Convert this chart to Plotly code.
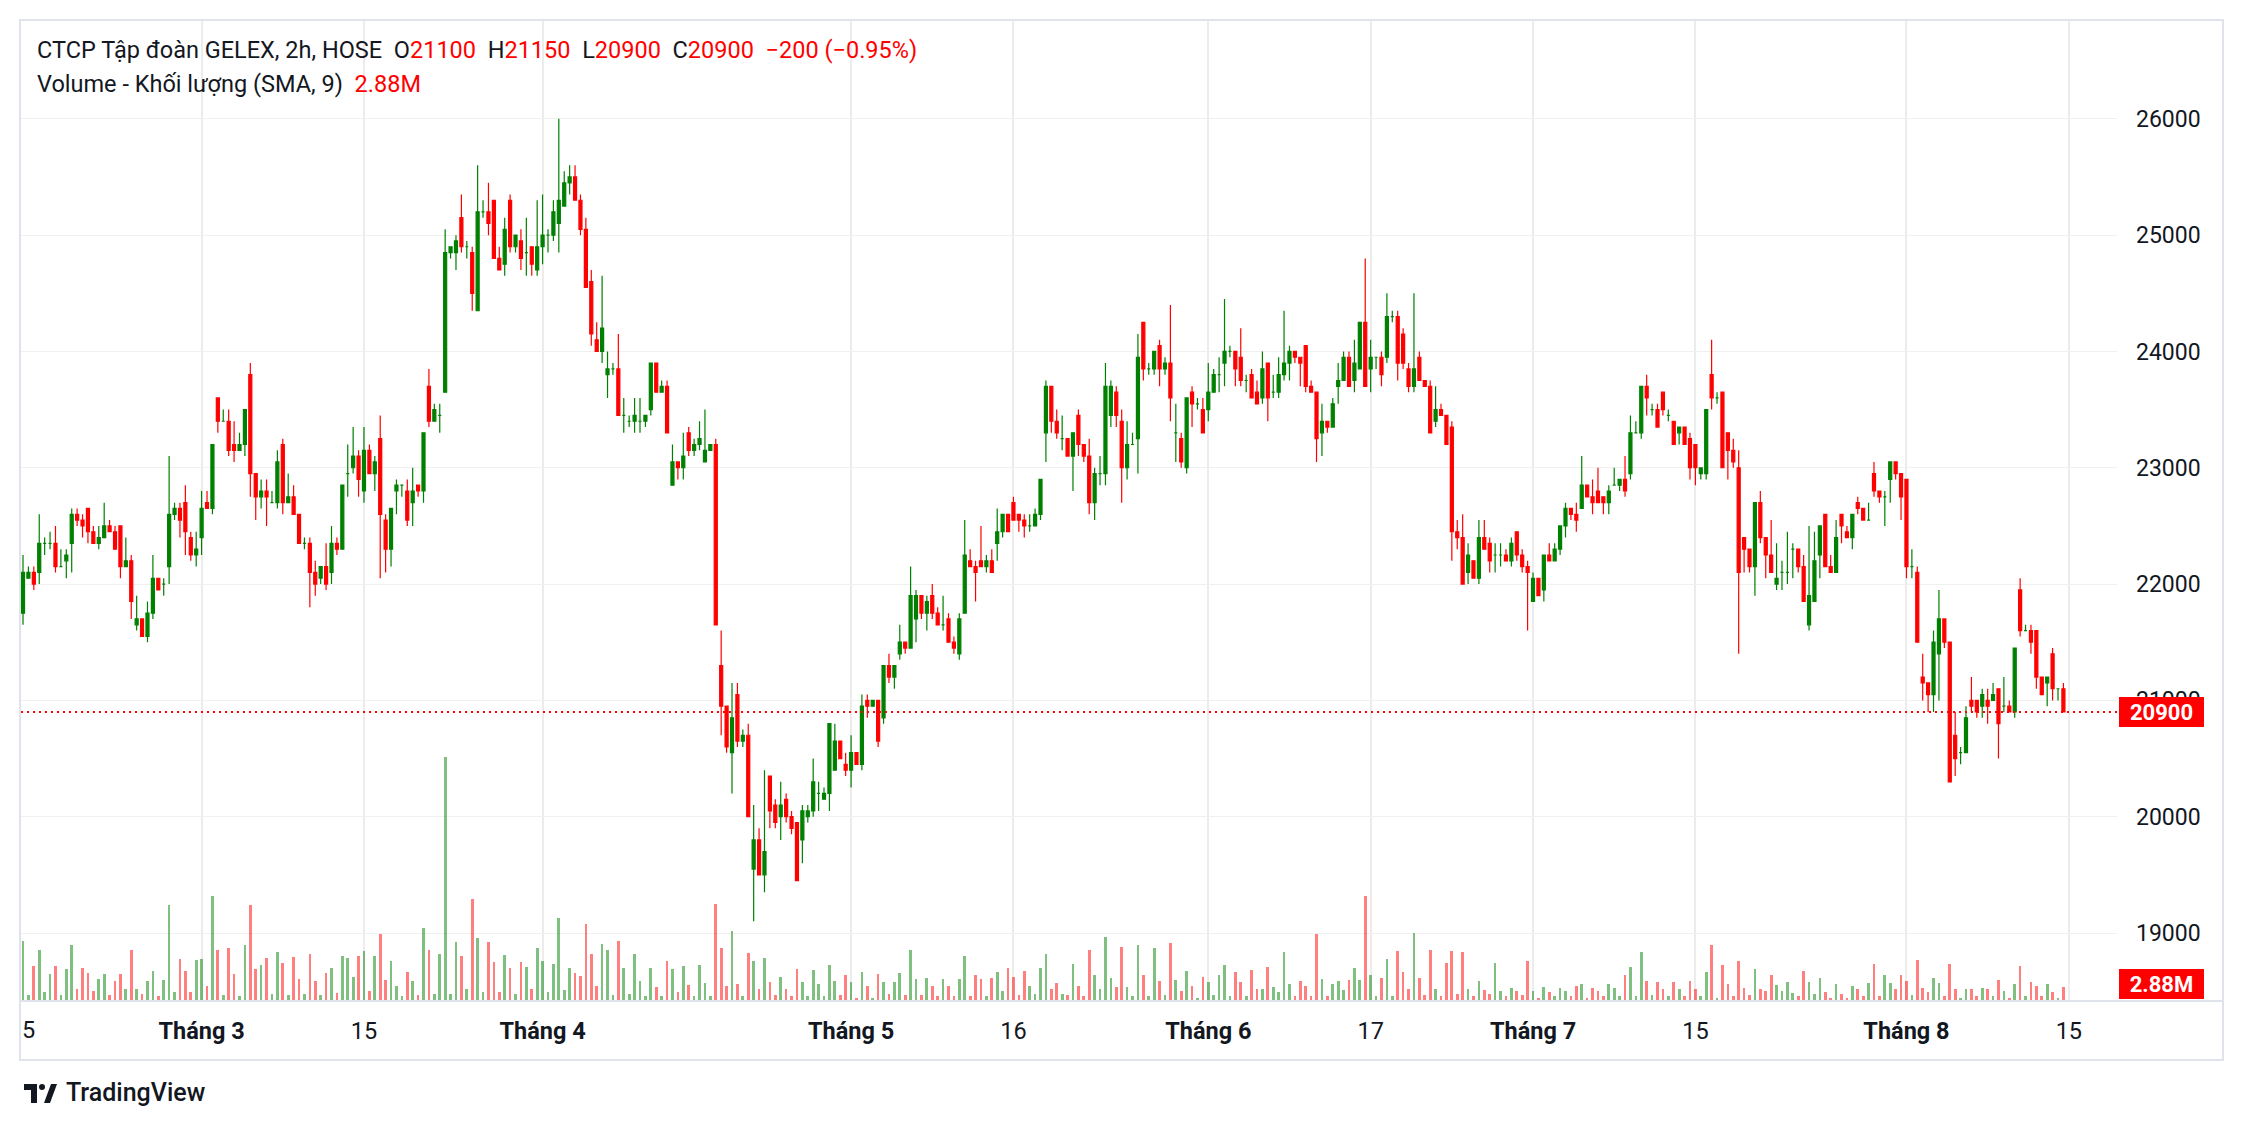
import plotly.graph_objects as go

# ---------------- data ----------------
open_ = [
    21750, 22050, 22100, 22100, 22350, 22350, 22350, 22150, 22200, 22350,
    22600, 22550, 22650, 22450, 22350, 22400, 22500, 22450, 22500, 22150,
    22200, 21650, 21700, 21550, 21750, 22050, 22000, 22150, 22600, 22650,
    22700, 22400, 22250, 22400, 22700, 22650, 23600, 23400, 23400, 23200,
    23150, 23200, 23800, 22950, 22750, 22800, 22700, 22700, 23200, 22700,
    22750, 22600, 22350, 22350, 22100, 22050, 22150, 22100, 22350, 22300,
    22950, 23000, 23100, 22800, 23150, 22950, 23250, 22550, 22300, 22800,
    22850, 22800, 22700, 22850, 22800, 23700, 23400, 23450, 23650, 24850,
    24850, 25150, 24900, 24850, 24350, 25200, 25200, 25300, 24800, 24750,
    25300, 24900, 24950, 24850, 24900, 24700, 24900, 25000, 25000, 25100,
    25250, 25450, 25500, 25300, 25050, 24600, 24100, 24000, 23800, 23850,
    23850, 23450, 23400, 23400, 23400, 23400, 23500, 23900, 23650, 23700,
    22850, 23050, 23000, 23300, 23150, 23200, 23050, 23150, 23200, 21300,
    20950, 20550, 21050, 20650, 20700, 19550, 19800, 19500, 20350, 20100,
    20000, 20150, 20000, 19950, 19800, 20000, 20050, 20200, 20150, 20200,
    20400, 20650, 20450, 20400, 20550, 20450, 21000, 20950, 21000, 20850,
    21300, 21200, 21400, 21500, 21450, 21700, 21900, 21750, 21900, 21750,
    21650, 21700, 21500, 21400, 21750, 22200, 22150, 22200, 22150, 22200,
    22350, 22450, 22600, 22700, 22600, 22550, 22500, 22500, 22600, 23300,
    23700, 23400, 23250, 23250, 23100, 23450, 23200, 23100, 22700, 22950,
    22950, 23450, 23650, 23400, 23000, 23200, 23250, 24250, 23850, 23850,
    24050, 23850, 23900, 23300, 23250, 23000, 23650, 23550, 23500, 23500,
    23650, 23800, 23900, 24000, 24000, 23950, 23750, 23800, 23650, 23600,
    23900, 23650, 23650, 23800, 23900, 24000, 23950, 24050, 23700, 23650,
    23300, 23400, 23350, 23700, 23750, 23950, 23750, 23850, 24250, 23850,
    23950, 23950, 23950, 24300, 24300, 24150, 23850, 23700, 23950, 23750,
    23700, 23400, 23500, 23450, 23350, 22450, 22400, 22100, 22200, 22050,
    22400, 22350, 22250, 22250, 22250, 22200, 22450, 22250, 22150, 21850,
    22050, 21950, 22250, 22200, 22300, 22500, 22650, 22600, 22650, 22850,
    22750, 22800, 22750, 22700, 22850, 22850, 22900, 22950, 23300, 23300,
    23700, 23500, 23500, 23650, 23450, 23400, 23300, 23350, 23250, 23200,
    22950, 22950, 23800, 23600, 23650, 23300, 23150, 23000, 22400, 22300,
    22150, 22700, 22400, 22250, 22000, 22100, 22100, 22300, 22300, 22150,
    21650, 21850, 22250, 22600, 22150, 22100, 22600, 22450, 22400, 22700,
    22650, 22550, 22950, 22800, 22750, 22900, 23050, 22950, 22900, 22150,
    22100, 21200, 21150, 21050, 21400, 21700, 21500, 20700, 20550, 20550,
    21000, 21000, 20950, 21000, 21000, 21100, 20950, 20950, 20900, 21950,
    21600, 21600, 21600, 21200, 21150, 21400, 21100, 21100,
]
high = [
    22250, 22150, 22150, 22600, 22400, 22450, 22500, 22300, 22300, 22650,
    22650, 22600, 22650, 22500, 22500, 22700, 22550, 22500, 22500, 22400,
    22250, 21900, 21700, 21850, 22250, 22050, 22050, 23100, 22700, 22700,
    22850, 22450, 22450, 22800, 22800, 23200, 23600, 23500, 23500, 23400,
    23300, 23500, 23900, 22950, 22900, 22900, 22800, 23150, 23250, 22950,
    22850, 22600, 22400, 22400, 22200, 22150, 22350, 22500, 22400, 22850,
    23200, 23350, 23150, 23350, 23200, 23100, 23450, 22600, 22650, 22900,
    22850, 22900, 23000, 22850, 23300, 23850, 23550, 23550, 25050, 24900,
    25000, 25350, 24950, 24900, 25600, 25300, 25450, 25300, 24900, 25150,
    25350, 25000, 25050, 25150, 24900, 25300, 25350, 25050, 25300, 26000,
    25550, 25600, 25600, 25350, 25150, 24700, 24250, 24650, 24000, 23900,
    24150, 23600, 23450, 23600, 23600, 23450, 23900, 23900, 23750, 23750,
    23200, 23050, 23300, 23350, 23250, 23400, 23500, 23200, 23250, 21600,
    20950, 21150, 21150, 20750, 20800, 20100, 19900, 20400, 20350, 20150,
    20300, 20200, 20050, 19950, 20100, 20100, 20500, 20300, 20250, 20800,
    20800, 20650, 20550, 20700, 20550, 21050, 21050, 21000, 21000, 21300,
    21400, 21300, 21650, 21500, 22150, 21950, 21900, 21900, 22000, 21800,
    21900, 21750, 21550, 21750, 22550, 22300, 22200, 22500, 22250, 22300,
    22650, 22600, 22600, 22750, 22600, 22600, 22600, 22650, 22900, 23750,
    23700, 23500, 23450, 23250, 23300, 23500, 23200, 23250, 23000, 23100,
    23900, 23750, 23700, 23500, 23400, 23300, 24150, 24250, 23900, 24000,
    24100, 23950, 24400, 23550, 23300, 23600, 23700, 23600, 23600, 23900,
    23850, 23950, 24450, 24050, 24000, 24200, 23800, 23850, 23750, 24000,
    23900, 23800, 23950, 24350, 24050, 24000, 23950, 24050, 23750, 23650,
    23550, 23400, 23600, 23900, 24000, 24000, 24100, 24250, 24800, 24100,
    23950, 24000, 24500, 24350, 24350, 24200, 23900, 24500, 24000, 23750,
    23750, 23700, 23550, 23450, 23400, 22550, 22600, 22350, 22200, 22550,
    22550, 22400, 22350, 22350, 22300, 22400, 22450, 22300, 22200, 22100,
    22050, 22250, 22350, 22350, 22500, 22700, 22650, 22700, 23100, 22850,
    22900, 23000, 22750, 22850, 23000, 22900, 23100, 23450, 23400, 23700,
    23800, 23550, 23550, 23650, 23500, 23400, 23350, 23350, 23300, 23200,
    23000, 23500, 24100, 23650, 23650, 23300, 23250, 23150, 22400, 22300,
    22700, 22800, 22400, 22550, 22350, 22200, 22450, 22350, 22300, 22250,
    22500, 22450, 22500, 22600, 22250, 22550, 22600, 22500, 22600, 22750,
    22650, 22700, 23050, 22800, 22800, 23050, 23050, 22950, 22900, 22300,
    22150, 21400, 21150, 21600, 21950, 21700, 21500, 20900, 20600, 20950,
    21200, 21000, 21100, 21100, 21150, 21100, 21200, 21000, 21450, 22050,
    21650, 21650, 21600, 21200, 21200, 21450, 21100, 21150,
]
low = [
    21650, 22050, 21950, 22000, 22250, 22300, 22100, 22150, 22050, 22100,
    22500, 22400, 22350, 22350, 22300, 22400, 22450, 22300, 22050, 22150,
    21700, 21600, 21550, 21500, 21700, 21950, 21900, 22000, 22550, 22400,
    22250, 22200, 22150, 22250, 22650, 22600, 23300, 23400, 23100, 23050,
    23150, 23100, 22750, 22550, 22650, 22500, 22700, 22650, 22600, 22700,
    22600, 22350, 22300, 21800, 21900, 22000, 21950, 22000, 22250, 22300,
    22750, 22950, 22750, 22700, 22950, 22800, 22050, 22100, 22150, 22600,
    22750, 22500, 22500, 22750, 22700, 23350, 23400, 23300, 23650, 24800,
    24700, 24850, 24800, 24350, 24350, 25150, 25000, 24800, 24700, 24650,
    24850, 24850, 24700, 24650, 24650, 24650, 24750, 24850, 24950, 24850,
    25250, 25350, 25300, 25000, 24550, 24050, 24000, 23900, 23600, 23800,
    23450, 23300, 23350, 23300, 23300, 23350, 23450, 23650, 23650, 23300,
    22850, 22900, 22900, 23100, 23100, 23150, 23050, 23150, 21650, 20700,
    20550, 20200, 20600, 20600, 20000, 19100, 19500, 19350, 19900, 19900,
    19800, 19950, 19850, 19450, 19600, 19950, 20000, 20050, 20150, 20050,
    20400, 20500, 20350, 20250, 20450, 20400, 20850, 20950, 20600, 20800,
    21150, 21100, 21350, 21400, 21450, 21500, 21700, 21600, 21700, 21650,
    21600, 21500, 21400, 21350, 21750, 22150, 21850, 22150, 22100, 22100,
    22200, 22400, 22450, 22550, 22450, 22400, 22450, 22500, 22550, 23050,
    23300, 23250, 23150, 23100, 22800, 23100, 23050, 22600, 22550, 22850,
    22850, 23350, 23350, 22700, 22900, 23200, 22950, 23750, 23800, 23800,
    23700, 23800, 23400, 23050, 23000, 22950, 23350, 23500, 23300, 23400,
    23650, 23650, 23700, 23950, 23700, 23700, 23650, 23600, 23550, 23550,
    23400, 23600, 23600, 23750, 23750, 23900, 23700, 23650, 23650, 23050,
    23100, 23300, 23350, 23550, 23750, 23700, 23650, 23850, 23700, 23650,
    23850, 23700, 23900, 24250, 23750, 23850, 23650, 23650, 23750, 23700,
    23300, 23350, 23450, 23200, 22200, 22300, 22000, 22000, 22050, 22000,
    22300, 22100, 22100, 22150, 22200, 22150, 22200, 22100, 21600, 21850,
    21900, 21850, 22200, 22200, 22250, 22400, 22550, 22450, 22650, 22750,
    22600, 22700, 22600, 22600, 22850, 22800, 22750, 22900, 23300, 23250,
    23450, 23450, 23350, 23450, 23400, 23200, 23200, 23200, 22900, 22850,
    22900, 22900, 23500, 23550, 23000, 22900, 23000, 21400, 22100, 22100,
    21900, 22350, 22050, 22100, 21950, 21950, 22000, 22050, 22100, 21850,
    21600, 21850, 22050, 22150, 22100, 22100, 22350, 22400, 22300, 22600,
    22550, 22550, 22750, 22700, 22500, 22700, 22900, 22550, 22050, 22050,
    21500, 21000, 20900, 20900, 21000, 21450, 20300, 20350, 20450, 20550,
    20900, 20850, 20850, 20800, 21000, 20500, 20900, 20900, 20850, 21550,
    21600, 21400, 21100, 21050, 20950, 21000, 21000, 20900,
]
close = [
    22100, 22100, 22000, 22350, 22350, 22350, 22150, 22150, 22250, 22600,
    22550, 22500, 22450, 22350, 22400, 22500, 22450, 22300, 22150, 22200,
    21850, 21700, 21550, 21750, 22050, 21950, 22000, 22600, 22650, 22550,
    22450, 22250, 22300, 22650, 22650, 23200, 23400, 23400, 23150, 23150,
    23200, 23500, 22950, 22750, 22800, 22750, 22700, 23050, 22700, 22750,
    22600, 22350, 22350, 22100, 22000, 22150, 22000, 22350, 22300, 22850,
    22950, 23100, 22900, 23150, 22950, 23050, 22600, 22300, 22650, 22850,
    22850, 22550, 22800, 22800, 23300, 23400, 23500, 23450, 24850, 24900,
    24950, 24900, 24900, 24500, 25200, 25200, 25100, 24800, 24700, 25050,
    24900, 25000, 24800, 24850, 24750, 24900, 25000, 25000, 25200, 25300,
    25450, 25500, 25300, 25050, 24550, 24150, 24000, 24200, 23850, 23850,
    23450, 23450, 23400, 23450, 23400, 23450, 23900, 23650, 23700, 23300,
    23050, 23000, 23100, 23150, 23200, 23250, 23150, 23200, 21650, 20950,
    20600, 20850, 20650, 20700, 20000, 19800, 19500, 19700, 20050, 19950,
    20100, 20000, 19900, 19450, 20050, 20050, 20300, 20200, 20200, 20800,
    20650, 20500, 20400, 20550, 20450, 20950, 20950, 21000, 20650, 21300,
    21200, 21300, 21500, 21450, 21900, 21900, 21750, 21850, 21750, 21650,
    21650, 21500, 21450, 21700, 22250, 22150, 22100, 22150, 22200, 22100,
    22450, 22600, 22450, 22550, 22550, 22500, 22500, 22600, 22900, 23700,
    23400, 23300, 23250, 23100, 23300, 23200, 23100, 22700, 22950, 22950,
    23700, 23700, 23450, 23000, 23200, 23200, 23950, 23850, 23850, 24000,
    23850, 23900, 23600, 23300, 23050, 23600, 23550, 23550, 23300, 23650,
    23800, 23800, 24000, 24000, 23850, 23750, 23750, 23600, 23550, 23850,
    23600, 23650, 23800, 23900, 24000, 23950, 23900, 23700, 23650, 23250,
    23400, 23350, 23550, 23750, 23950, 23700, 23900, 24250, 23700, 23950,
    23950, 23800, 24300, 24300, 23900, 23900, 23700, 23850, 23750, 23700,
    23300, 23500, 23450, 23200, 22450, 22400, 22000, 22250, 22050, 22400,
    22300, 22200, 22250, 22250, 22200, 22350, 22250, 22150, 22100, 22050,
    21900, 22250, 22200, 22300, 22500, 22650, 22600, 22550, 22850, 22750,
    22700, 22700, 22700, 22800, 22850, 22900, 22800, 23300, 23300, 23700,
    23600, 23500, 23350, 23500, 23450, 23200, 23350, 23200, 23000, 23000,
    23000, 23500, 23600, 23600, 23000, 23150, 23050, 22100, 22300, 22150,
    22700, 22400, 22250, 22100, 22050, 22100, 22100, 22300, 22150, 21850,
    21900, 22200, 22500, 22150, 22100, 22400, 22500, 22400, 22600, 22650,
    22550, 22550, 22800, 22750, 22750, 23050, 22950, 22750, 22150, 22150,
    21500, 21150, 21050, 21500, 21700, 21500, 20300, 20500, 20550, 20850,
    20950, 20900, 21050, 20950, 21050, 20800, 20950, 20900, 21450, 21600,
    21600, 21500, 21200, 21050, 21200, 21100, 21100, 20900,
]
volume_m = [
    12.8, 1.1, 7.4, 10.9, 1.8, 5.6, 7.4, 1.1, 6.8, 11.9,
    2.4, 7.0, 5.9, 2.0, 4.6, 5.6, 1.1, 4.0, 5.6, 2.4,
    10.9, 2.4, 1.4, 4.0, 6.3, 0.9, 4.4, 20.5, 1.8, 8.9,
    6.3, 1.8, 8.6, 8.9, 3.0, 22.5, 10.9, 1.1, 11.3, 5.6,
    0.9, 11.9, 20.5, 6.8, 7.6, 9.0, 1.4, 10.3, 8.0,
    1.1, 9.3, 4.6, 1.4, 10.0, 4.0, 1.1, 5.9, 7.0, 1.6,
    9.6, 9.0, 5.0, 9.6, 10.6, 2.0, 9.4, 14.3, 4.4, 8.4,
    3.0, 0.9, 6.0, 4.0, 1.1, 15.6, 10.9, 1.3, 10.0, 52.5,
    1.4, 12.5, 9.4, 2.3, 21.9, 13.3, 1.8, 12.6, 8.3, 1.8,
    9.8, 7.0, 1.4, 8.3, 7.1, 2.4, 11.3, 8.4,
    1.8, 7.8, 17.8, 2.1, 6.9, 5.9, 5.1, 16.5, 10.0, 3.1,
    12.0, 10.8, 1.1, 12.8, 6.9, 1.4, 10.0, 4.0, 0.9, 7.0,
    2.8, 0.8, 8.4, 6.6, 1.8, 7.3, 3.3, 0.9, 7.5, 3.6,
    0.8, 20.8, 11.3, 3.1, 14.8, 3.5, 0.9, 10.1, 8.4, 2.4,
    9.1, 3.8, 1.1, 5.0, 2.4, 0.8, 6.8, 3.8,
    0.9, 6.5, 3.4, 0.9, 7.6, 4.0, 1.1, 5.3, 3.8, 0.5,
    6.1, 3.0, 0.5, 5.6, 3.8, 1.4, 3.8, 5.9, 1.1, 10.9,
    4.6, 1.1, 4.8, 3.0, 0.8, 4.6, 3.0, 0.9, 4.6, 9.5,
    0.8, 5.4, 4.6, 0.8, 4.8, 6.1, 2.0, 7.0, 5.0, 1.1,
    6.3, 3.0, 1.4, 6.9, 10.0, 2.4, 3.6, 1.4,
    1.1, 7.8, 3.1, 0.8, 10.9, 5.5, 2.4, 13.6, 4.8, 2.9,
    11.4, 2.9, 0.9, 11.8, 5.5, 0.9, 11.3, 4.0, 1.1, 12.4,
    4.4, 2.0, 6.3, 3.1, 0.5, 5.0, 3.9, 1.1, 5.3, 7.6,
    0.9, 6.1, 3.8, 0.8, 6.5, 2.4, 2.4, 7.1, 2.9, 1.8,
    10.4, 3.5, 0.9, 4.0, 3.1, 0.9, 14.3, 4.6,
    0.9, 3.4, 4.0, 2.1, 4.4, 7.0, 4.4, 22.5, 5.3, 0.8,
    4.8, 8.8, 0.9, 10.6, 6.1, 2.3, 14.4, 4.8, 1.1, 10.9,
    2.3, 0.8, 8.0, 10.6, 1.4, 10.4, 2.4, 0.8, 4.0, 2.1,
    1.4, 7.9, 2.0, 0.8, 2.6, 2.0, 1.1, 8.4, 2.0, 0.5,
    2.9, 1.8, 0.8, 2.6, 2.0, 0.8, 3.1, 3.4,
    0.5, 2.5, 2.0, 0.9, 3.4, 2.6, 0.9, 5.5, 7.1, 0.9,
    10.4, 4.0, 1.1, 3.9, 2.3, 0.8, 3.9, 2.3, 0.9, 4.0,
    2.4, 0.8, 6.1, 11.8, 0.5, 7.6, 3.5, 0.9, 8.4, 2.6,
    1.1, 6.6, 2.3, 2.0, 5.3, 3.3, 2.0, 3.9, 1.5, 0.8,
    6.3, 3.8, 1.4, 4.8, 1.8, 0.5, 3.4, 1.4,
    0.5, 3.1, 2.4, 0.8, 3.6, 7.8, 0.8, 5.3, 3.6, 2.4,
    5.3, 4.0, 1.1, 8.6, 2.5, 1.8, 4.8, 3.6, 0.9, 7.8,
    2.4, 0.5, 2.3, 2.3, 0.8, 2.6, 2.3, 0.8, 4.3, 2.0,
    0.5, 3.4, 7.3, 0.8, 3.8, 3.1, 0.9, 3.4, 1.8, 0.5,
    2.88,
]

tick_pos = [33, 63, 96, 153, 183, 219, 249, 279, 309, 348, 378]
tick_text = ["Tháng 3", "15", "Tháng 4", "Tháng 5", "16", "Tháng 6", "17",
             "Tháng 7", "15", "Tháng 8", "15"]
edge_label_pos = 1.0
edge_label_text = "5"
price_ticks = [19000, 20000, 21000, 22000, 23000, 24000, 25000, 26000]

title = "CTCP Tập đoàn GELEX, 2h, HOSE"
vol_title = "Volume - Khối lượng (SMA, 9)"

# ---------------- styling / geometry ----------------
W, H = 2244, 1128
OFF = 8                                   # page body margin of the html page
L0, R0, T0, B0 = 21, 2117, 21, 1000       # plot area in screen pixels
X_RANGE = [-0.37, 386.9]
Y_RANGE = [18424, 26841]
VOL_RANGE = [0, 211.5]

GREEN = "#008000"
RED = "#ff0000"
VGREEN = "rgba(0,128,0,0.5)"
VRED = "rgba(255,0,0,0.5)"
TXT = "#131722"
FONT = "Roboto, 'Liberation Sans', sans-serif"
FS = 23.5


def px(x):
    return (x - L0) / (R0 - L0)


def py(y):
    return (B0 - y) / (B0 - T0)


n = len(close)
assert len(open_) == n and len(high) == n and len(low) == n and len(volume_m) == n
xs = list(range(n))
up = [close[i] >= open_[i] for i in xs]

fig = go.Figure()

fig.add_trace(go.Bar(
    x=xs, y=volume_m, width=0.5,
    marker=dict(color=[VGREEN if u else VRED for u in up], line=dict(width=0)),
    yaxis="y", hoverinfo="skip", showlegend=False,
))

for flag, col in ((True, GREEN), (False, RED)):
    idx = [i for i in xs if up[i] == flag]
    fig.add_trace(go.Candlestick(
        x=idx,
        open=[open_[i] for i in idx], high=[high[i] for i in idx],
        low=[low[i] for i in idx], close=[close[i] for i in idx],
        increasing=dict(line=dict(color=col, width=1.2), fillcolor=col),
        decreasing=dict(line=dict(color=col, width=1.2), fillcolor=col),
        whiskerwidth=0, yaxis="y2", hoverinfo="skip", showlegend=False,
    ))

ticktext = [f"<b>{t}</b>" if t.startswith("Tháng") else t for t in tick_text]

fig.update_layout(
    width=W, height=H,
    margin=dict(l=L0 - OFF, r=W - (R0 - OFF), t=T0 - OFF, b=H - (B0 - OFF), pad=0),
    paper_bgcolor="white", plot_bgcolor="white",
    font=dict(family=FONT, size=FS, color=TXT),
    boxgap=0.2,
    bargap=0,
    showlegend=False,
    xaxis=dict(
        range=X_RANGE, tickmode="array", tickvals=tick_pos, ticktext=ticktext,
        showgrid=True, gridcolor="#ececec", gridwidth=1.5,
        zeroline=False, showline=False, ticks="", ticklabelstandoff=14,
        rangeslider=dict(visible=False),
        tickfont=dict(family=FONT, size=FS, color=TXT),
        fixedrange=True,
    ),
    yaxis=dict(range=VOL_RANGE, visible=False, showgrid=False, fixedrange=True),
    yaxis2=dict(
        range=Y_RANGE, overlaying="y", side="right", anchor="x",
        tickmode="array", tickvals=price_ticks, tickformat="d",
        showgrid=True, gridcolor="#f0f0f0", gridwidth=1.2,
        zeroline=False, showline=False, ticks="", ticklabelstandoff=18,
        tickfont=dict(family=FONT, size=23, color=TXT),
        fixedrange=True,
    ),
)

# frame and separators
BORDER = "#e0e3eb"
fig.add_shape(type="rect", xref="paper", yref="paper",
              x0=px(20), x1=px(2223), y0=py(1060), y1=py(20),
              line=dict(color=BORDER, width=2), fillcolor="rgba(0,0,0,0)", layer="above")
fig.add_shape(type="line", xref="paper", yref="paper",
              x0=px(20), x1=px(2223), y0=py(1001), y1=py(1001),
              line=dict(color=BORDER, width=2))

# last price line
last = close[-1]
fig.add_shape(type="line", xref="paper", yref="y2", x0=0, x1=1, y0=last, y1=last,
              line=dict(color=RED, width=2, dash="2px,4px"))

# legend texts
nb = "\u00a0"
minus = "\u2212"
chg = close[-1] - close[-2]
pct = chg / close[-2] * 100
sign = minus if chg < 0 else "+"
head_col = RED if chg < 0 else GREEN


def colored(s):
    return f'<span style="color:{head_col}">{s}</span>'


line1 = (f"{title}{nb}{nb}O{colored(open_[-1])}{nb}{nb}H{colored(high[-1])}"
         f"{nb}{nb}L{colored(low[-1])}{nb}{nb}C{colored(close[-1])}{nb}{nb}"
         f"{colored(f'{sign}{abs(chg):.0f} ({sign}{abs(pct):.2f}%)')}")
line2 = f"{vol_title}{nb}{nb}{colored(f'{volume_m[-1]:.2f}M')}"

fig.add_annotation(xref="paper", yref="paper", x=px(35), y=py(50),
                   xanchor="left", yanchor="middle", text=line1, showarrow=False,
                   font=dict(family=FONT, size=FS, color=TXT))
fig.add_annotation(xref="paper", yref="paper", x=px(35), y=py(84),
                   xanchor="left", yanchor="middle", text=line2, showarrow=False,
                   font=dict(family=FONT, size=FS, color=TXT))

# price scale labels
fig.add_annotation(xref="paper", yref="y2", x=px(2119), y=last,
                   xanchor="left", yanchor="middle", text=f"<b>{last}</b>",
                   showarrow=False, bgcolor=head_col, borderpad=3, borderwidth=0,
                   width=79, height=24, align="center",
                   font=dict(family=FONT, size=22, color="white"))
fig.add_annotation(xref="paper", yref="paper", x=px(2119), y=py(999),
                   xanchor="left", yanchor="bottom", text=f"<b>{volume_m[-1]:.2f}M</b>",
                   showarrow=False, bgcolor=head_col, borderpad=3, borderwidth=0,
                   width=79, height=24, align="center",
                   font=dict(family=FONT, size=22, color="white"))

# clipped first time label
fig.add_annotation(xref="x", yref="paper", x=edge_label_pos, y=py(1030),
                   xanchor="center", yanchor="middle", text=edge_label_text,
                   showarrow=False, font=dict(family=FONT, size=FS, color=TXT))

# TradingView logo
LOGO = "#131722"
fig.add_shape(type="rect", xref="paper", yref="paper", x0=px(24), x1=px(37),
              y0=py(1090), y1=py(1084), fillcolor=LOGO, line=dict(width=0))
fig.add_shape(type="rect", xref="paper", yref="paper", x0=px(31), x1=px(37),
              y0=py(1103), y1=py(1084), fillcolor=LOGO, line=dict(width=0))
fig.add_shape(type="circle", xref="paper", yref="paper", x0=px(39), x1=px(45),
              y0=py(1090), y1=py(1084), fillcolor=LOGO, line=dict(width=0))
fig.add_shape(type="path", xref="paper", yref="paper",
              path=(f"M {px(44)} {py(1103)} L {px(50)} {py(1103)} "
                    f"L {px(57)} {py(1084)} L {px(51)} {py(1084)} Z"),
              fillcolor=LOGO, line=dict(width=0))
fig.add_annotation(xref="paper", yref="paper", x=px(64), y=py(1092),
                   xanchor="left", yanchor="middle", text="TradingView",
                   showarrow=False, font=dict(family=FONT, size=25, color=TXT, weight=500))

fig.write_html("out.html")
